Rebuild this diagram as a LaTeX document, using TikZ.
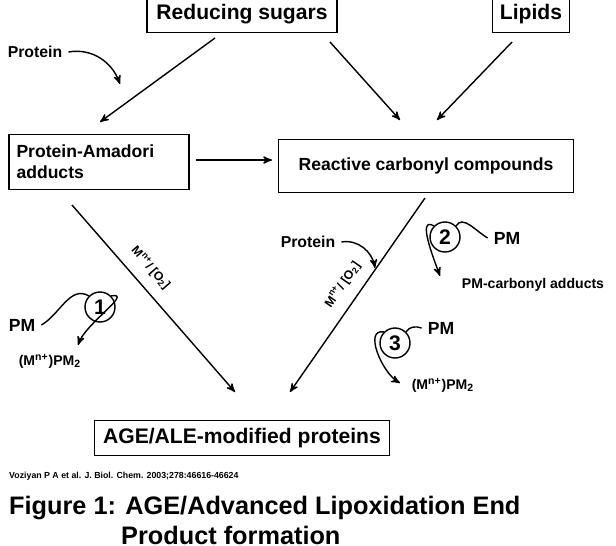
\documentclass[tikz,border=0pt]{standalone}
\usepackage{fontspec}
\setmainfont{Liberation Sans}
\usetikzlibrary{arrows}
\begin{document}
\begin{tikzpicture}[x=0.02cm,y=-0.02cm]
      \tikzset{
        box/.style={draw, rectangle, thick, font=\bfseries\large, inner sep=4pt},
        txt/.style={font=\bfseries\small},
        num/.style={draw, circle, thick, font=\bfseries\large, inner sep=1pt, minimum size=0.6cm},
        line/.style={draw, thick, -stealth'},
        curv/.style={draw, thick, -stealth'},
        lbl/.style={sloped, above=3pt, font=\bfseries\scriptsize},
      }
      \useasboundingbox (0,0) rectangle (616,545);
      \node [box, minimum width=3.8cm, minimum height=0.75cm] (sugar) at (242,14) {Reducing sugars};
      \node [box, minimum width=1.55cm, minimum height=0.75cm] (lipid) at (531,14) {Lipids};
      \node [box, minimum width=3.6cm, minimum height=1.1cm, align=left, text width=3.3cm, font=\bfseries] (amadori) at (99,162) {Protein-Amadori\\adducts};
      \node [box, minimum width=5.9cm, minimum height=1.05cm, font=\bfseries] (rcc) at (426,166) {Reactive carbonyl compounds};
      \node [box, minimum width=5.9cm, minimum height=0.7cm] (age) at (242,438) {AGE/ALE-modified proteins};
      \node [txt] (prot1) at (35,52) {Protein};
      \node [txt] (prot2) at (308,242) {Protein};
      \node [num] (n1) at (100,307) {1};
      \node [num] (n2) at (445,237) {2};
      \node [num] (n3) at (395,343) {3};
      \node [txt, font=\bfseries] (pm1) at (22,325) {PM};
      \node [txt, font=\bfseries] (pm2) at (507,238) {PM};
      \node [txt, font=\bfseries] (pm3) at (441,328) {PM};
      \node [txt, font=\bfseries\footnotesize] (mpm1) at (50,361) {(M\textsuperscript{n+})PM\textsubscript{2}};
      \node [txt, font=\bfseries\footnotesize] (mpm3) at (443,385) {(M\textsuperscript{n+})PM\textsubscript{2}};
      \node [txt, font=\bfseries\footnotesize] (pmc) at (533,285) {PM-carbonyl adducts};
      \coordinate (s1) at (215,38);
      \coordinate (s2) at (330,42);
      \coordinate (l1) at (512,42);
      \coordinate (t1) at (100,122);
      \coordinate (t2) at (400,120);
      \coordinate (t3) at (437,120);
      \coordinate (a1) at (72,205);
      \coordinate (a2) at (235,392);
      \coordinate (b1) at (425,198);
      \coordinate (b2) at (290,392);
      \coordinate (e1) at (196,160);
      \coordinate (e2) at (272,160);

      \path [line] (s1)--(t1);
      \path [line] (s2)--(t2);
      \path [line] (l1)--(t3);
      \path [line] (e1)--(e2);
      \path [line] (a1)--node[lbl, pos=0.4]{M\textsuperscript{n+}/ [O\textsubscript{2}]} (a2);
      \path [line] (b1)--node[lbl, pos=0.5]{M\textsuperscript{n+}/ [O\textsubscript{2}]} (b2);
      %curved side arrows
      \path [curv] (prot1.east) to[out=10, in=110] (120,84);
      \path [curv] (prot2.east) to[out=10, in=100] (375,268);
      \draw [thick] (pm1.east) to[out=30, in=150] (n1.north west);
      \draw [curv] (n1.north east) to[out=10, in=70] (78,345);
      \draw [thick] (pm2.west) to[out=150, in=60] (n2.north east);
      \draw [curv] (n2.north west) to[out=150, in=110] (440,276);
      \draw [thick] (pm3.west) to[out=160, in=60] (n3.north east);
      \draw [curv] (n3.north west) to[out=170, in=150] (400,383);
      \node [font=\bfseries\tiny, anchor=west] (cite) at (3,476) {Voziyan P A et al. J. Biol. Chem. 2003;278:46616-46624};
      \node [font=\bfseries\Large, anchor=west] (cap1) at (3,508) {Figure 1: AGE/Advanced Lipoxidation End};
      \node [font=\bfseries\Large, anchor=west] (cap2) at (115,535) {Product formation};
\end{tikzpicture}
\end{document}
